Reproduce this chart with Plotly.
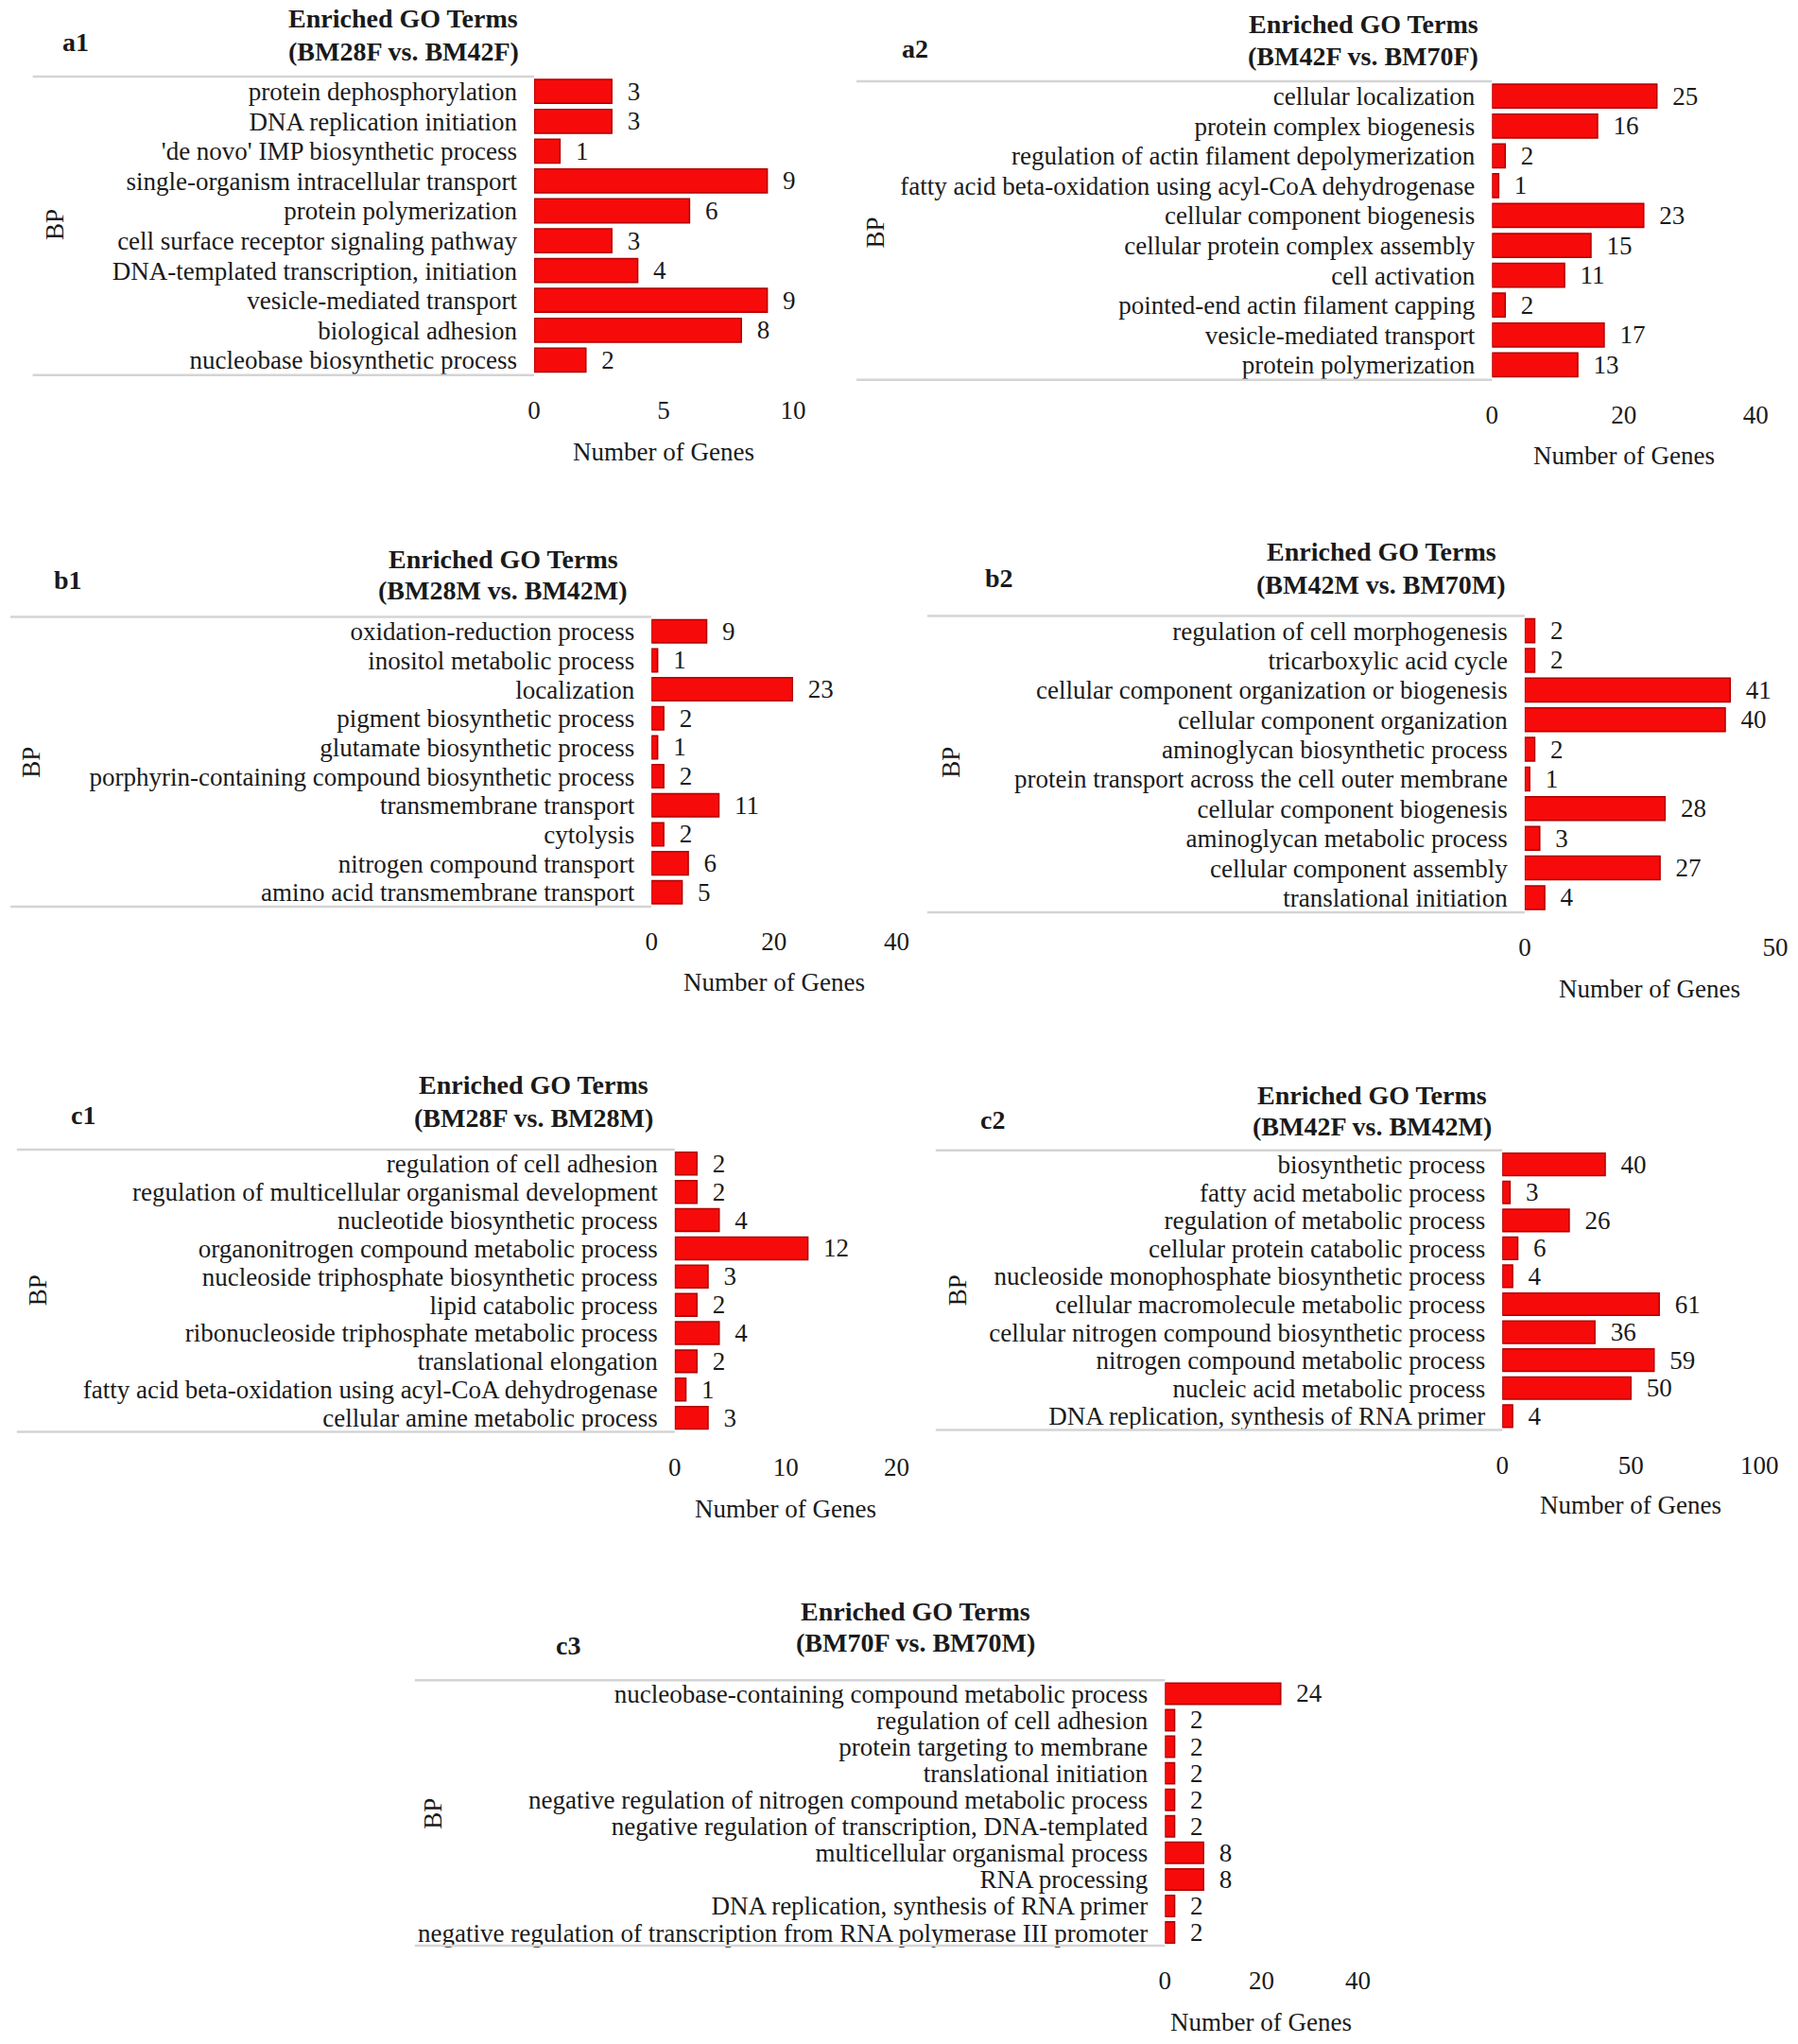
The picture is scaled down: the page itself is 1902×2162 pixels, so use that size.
import plotly.graph_objects as go

# ---------------- data ----------------
a1_terms = ["protein dephosphorylation", "DNA replication initiation", "'de novo' IMP biosynthetic process",
            "single-organism intracellular transport", "protein polymerization", "cell surface receptor signaling pathway",
            "DNA-templated transcription, initiation", "vesicle-mediated transport", "biological adhesion",
            "nucleobase biosynthetic process"]
a1_counts = [3, 3, 1, 9, 6, 3, 4, 9, 8, 2]

a2_terms = ["cellular localization", "protein complex biogenesis", "regulation of actin filament depolymerization",
            "fatty acid beta-oxidation using acyl-CoA dehydrogenase", "cellular component biogenesis",
            "cellular protein complex assembly", "cell activation", "pointed-end actin filament capping",
            "vesicle-mediated transport", "protein polymerization"]
a2_counts = [25, 16, 2, 1, 23, 15, 11, 2, 17, 13]

b1_terms = ["oxidation-reduction process", "inositol metabolic process", "localization", "pigment biosynthetic process",
            "glutamate biosynthetic process", "porphyrin-containing compound biosynthetic process",
            "transmembrane transport", "cytolysis", "nitrogen compound transport", "amino acid transmembrane transport"]
b1_counts = [9, 1, 23, 2, 1, 2, 11, 2, 6, 5]

b2_terms = ["regulation of cell morphogenesis", "tricarboxylic acid cycle", "cellular component organization or biogenesis",
            "cellular component organization", "aminoglycan biosynthetic process",
            "protein transport across the cell outer membrane", "cellular component biogenesis",
            "aminoglycan metabolic process", "cellular component assembly", "translational initiation"]
b2_counts = [2, 2, 41, 40, 2, 1, 28, 3, 27, 4]

c1_terms = ["regulation of cell adhesion", "regulation of multicellular organismal development",
            "nucleotide biosynthetic process", "organonitrogen compound metabolic process",
            "nucleoside triphosphate biosynthetic process", "lipid catabolic process",
            "ribonucleoside triphosphate metabolic process", "translational elongation",
            "fatty acid beta-oxidation using acyl-CoA dehydrogenase", "cellular amine metabolic process"]
c1_counts = [2, 2, 4, 12, 3, 2, 4, 2, 1, 3]

c2_terms = ["biosynthetic process", "fatty acid metabolic process", "regulation of metabolic process",
            "cellular protein catabolic process", "nucleoside monophosphate biosynthetic process",
            "cellular macromolecule metabolic process", "cellular nitrogen compound biosynthetic process",
            "nitrogen compound metabolic process", "nucleic acid metabolic process",
            "DNA replication, synthesis of RNA primer"]
c2_counts = [40, 3, 26, 6, 4, 61, 36, 59, 50, 4]

c3_terms = ["nucleobase-containing compound metabolic process", "regulation of cell adhesion",
            "protein targeting to membrane", "translational initiation",
            "negative regulation of nitrogen compound metabolic process",
            "negative regulation of transcription, DNA-templated", "multicellular organismal process",
            "RNA processing", "DNA replication, synthesis of RNA primer",
            "negative regulation of transcription from RNA polymerase III promoter"]
c3_counts = [24, 2, 2, 2, 2, 2, 8, 8, 2, 2]

panel_labels = ["a1", "a2", "b1", "b2", "c1", "c2", "c3"]
comparisons = ["(BM28F vs. BM42F)", "(BM42F vs. BM70F)", "(BM28M vs. BM42M)", "(BM42M vs. BM70M)",
               "(BM28F vs. BM28M)", "(BM42F vs. BM42M)", "(BM70F vs. BM70M)"]
x_ticks = [[0, 5, 10], [0, 20, 40], [0, 20, 40], [0, 50], [0, 10, 20], [0, 50, 100], [0, 20, 40]]
all_terms = [a1_terms, a2_terms, b1_terms, b2_terms, c1_terms, c2_terms, c3_terms]
all_counts = [a1_counts, a2_counts, b1_counts, b2_counts, c1_counts, c2_counts, c3_counts]

# ---------------- layout (pixel geometry) ----------------
W, H = 1902, 2162
geom = [
    dict(x0=566, x1=844, top=80, bot=396, lineL=28, tx=426, ty1=19, ty2=54, lx=74, ly=44, bx=52, by=237, xly=477),
    dict(x0=1594, x1=1877, top=85, bot=401, lineL=912, tx=1456, ty1=25, ty2=59, lx=975, ly=51, bx=932, by=245, xly=481),
    dict(x0=692, x1=955, top=652, bot=959, lineL=4, tx=533, ty1=591, ty2=624, lx=66, ly=613, bx=27, by=806, xly=1039),
    dict(x0=1629, x1=1898, top=651, bot=965, lineL=988, tx=1475, ty1=583, ty2=618, lx=1065, ly=611, bx=1014, by=806, xly=1046),
    dict(x0=717, x1=955, top=1216, bot=1515, lineL=11, tx=566, ty1=1148, ty2=1183, lx=82, ly=1180, bx=33, by=1365, xly=1596),
    dict(x0=1605, x1=1881, top=1217, bot=1513, lineL=997, tx=1465, ty1=1159, ty2=1192, lx=1058, ly=1185, bx=1020, by=1365, xly=1592),
    dict(x0=1243, x1=1450, top=1778, bot=2059, lineL=438, tx=975, ty1=1705, ty2=1738, lx=603, ly=1741, bx=458, by=1919, xly=2140),
]

FONT = "Liberation Serif"
FS = 27
FS_TITLE = 28
BAR_COLOR = "#f70a0a"
BAR_EDGE = "#b00000"
LINE_COLOR = "#d4d4d4"
TXT = "#1a1a1a"

def px(x):
    return x / W

def py(y):
    return 1 - y / H

fig = go.Figure()
annotations = []
shapes = []
layout_axes = {}

for i, (terms, counts) in enumerate(zip(all_terms, all_counts)):
    g = geom[i]
    n = i + 1
    xa = "x" if n == 1 else f"x{n}"
    ya = "y" if n == 1 else f"y{n}"
    fig.add_trace(go.Bar(
        x=counts, y=terms, orientation="h", xaxis=xa, yaxis=ya,
        marker=dict(color=BAR_COLOR, line=dict(color=BAR_EDGE, width=1.5)),
        width=0.8,
        text=counts, texttemplate="\u2002%{x}", textposition="outside",
        textfont=dict(family=FONT, size=FS, color=TXT),
        constraintext="none", cliponaxis=False, showlegend=False, hoverinfo="x+y",
    ))
    ticks = x_ticks[i]
    xkey = "xaxis" if n == 1 else f"xaxis{n}"
    ykey = "yaxis" if n == 1 else f"yaxis{n}"
    layout_axes[xkey] = dict(
        domain=[px(g["x0"]), px(g["x1"])], anchor=ya, range=[0, ticks[-1]],
        tickmode="array", tickvals=ticks, showgrid=False, zeroline=False, showline=False, ticks="",
        tickfont=dict(family=FONT, size=FS, color=TXT), ticklabelstandoff=18,
        fixedrange=True,
    )
    layout_axes[ykey] = dict(
        domain=[py(g["bot"]), py(g["top"])], anchor=xa, type="category",
        categoryorder="array", categoryarray=terms, range=[len(terms) - 0.5, -0.5],
        tickmode="array", tickvals=terms, ticktext=terms,
        showgrid=False, zeroline=False, showline=False, ticks="",
        tickfont=dict(family=FONT, size=FS, color=TXT), ticklabelstandoff=17,
        fixedrange=True,
    )
    for yy in (g["top"], g["bot"]):
        shapes.append(dict(type="line", xref="paper", yref="paper",
                           x0=px(g["lineL"]), x1=px(g["x0"]), y0=py(yy), y1=py(yy),
                           line=dict(color=LINE_COLOR, width=2.5)))
    annotations.append(dict(text="<b>Enriched GO Terms</b>", x=px(g["tx"]), y=py(g["ty1"]),
                            xref="paper", yref="paper", showarrow=False, xanchor="center", yanchor="middle",
                            font=dict(family=FONT, size=FS_TITLE, color=TXT)))
    annotations.append(dict(text=f"<b>{comparisons[i]}</b>", x=px(g["tx"]), y=py(g["ty2"]),
                            xref="paper", yref="paper", showarrow=False, xanchor="center", yanchor="middle",
                            font=dict(family=FONT, size=FS_TITLE, color=TXT)))
    annotations.append(dict(text=f"<b>{panel_labels[i]}</b>", x=px(g["lx"]), y=py(g["ly"]),
                            xref="paper", yref="paper", showarrow=False, xanchor="center", yanchor="middle",
                            font=dict(family=FONT, size=FS_TITLE, color=TXT)))
    annotations.append(dict(text="BP", x=px(g["bx"]), y=py(g["by"]), textangle=-90,
                            xref="paper", yref="paper", showarrow=False, xanchor="center", yanchor="middle",
                            font=dict(family=FONT, size=FS, color=TXT)))
    annotations.append(dict(text="Number of Genes", x=px((g["x0"] + g["x1"]) / 2), y=py(g["xly"]),
                            xref="paper", yref="paper", showarrow=False, xanchor="center", yanchor="middle",
                            font=dict(family=FONT, size=FS, color=TXT)))

fig.update_layout(
    width=W, height=H, autosize=False,
    margin=dict(l=0, r=0, t=0, b=0, pad=0),
    paper_bgcolor="white", plot_bgcolor="white",
    font=dict(family=FONT, size=FS, color=TXT),
    showlegend=False,
    annotations=annotations, shapes=shapes,
    **layout_axes,
)

fig.write_html("out.html", config={"displayModeBar": False},
               post_script="document.body.style.margin='0px';document.body.style.overflow='hidden';")
